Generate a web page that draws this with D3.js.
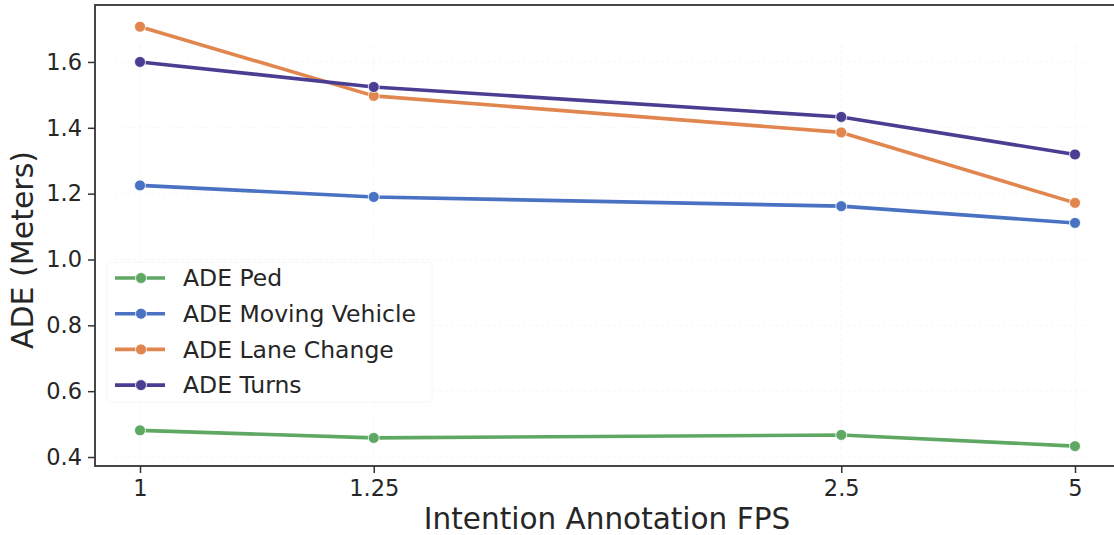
<!DOCTYPE html>
<html lang="en">
<head>
  <meta charset="UTF-8">
  <title>ADE vs Intention Annotation FPS</title>
  <script src="https://d3js.org/d3.v7.min.js"></script>
  <style>
    body { margin: 0; background: #fff; }
    text { font-family: "DejaVu Sans", sans-serif; fill: #262626; }
  </style>
</head>
<body>
  <svg id="chart" width="1114" height="535"></svg>

  <script>
    // data
    const fpsLabels = ["1", "1.25", "2.5", "5"];
    const fpsSlots = [0, 1, 3, 4];   // the ticks are not evenly placed in the original
    const seriesNames = ["ADE Ped", "ADE Moving Vehicle", "ADE Lane Change", "ADE Turns"];
    const adePed = [0.481, 0.458, 0.467, 0.433];
    const adeMovingVehicle = [1.225, 1.190, 1.162, 1.111];
    const adeLaneChange = [1.707, 1.497, 1.386, 1.172];
    const adeTurns = [1.600, 1.524, 1.433, 1.319];
    const yTicks = [0.4, 0.6, 0.8, 1.0, 1.2, 1.4, 1.6];

    const colors = ["#5fa864", "#4a72c3", "#e0864e", "#4a3e93"];
    const seriesValues = [adePed, adeMovingVehicle, adeLaneChange, adeTurns];

    const svg = d3.select("#chart");
    const plot = { left: 95, top: 5, right: 1118, bottom: 466 };

    const x = d3.scaleLinear().domain([0, 4]).range([140, 1075]);
    const y = d3.scaleLinear().domain([0.3727, 1.773]).range([plot.bottom, plot.top]);

    // faint grid
    const grid = svg.append("g");
    grid.selectAll(".vg").data(fpsSlots).enter().append("line")
      .attr("x1", d => x(d)).attr("x2", d => x(d))
      .attr("y1", plot.top + 40).attr("y2", plot.bottom - 5)
      .attr("stroke", "#f4f5fa").attr("stroke-width", 1).attr("stroke-dasharray", "3,3");
    grid.selectAll(".hg").data(yTicks).enter().append("line")
      .attr("x1", plot.left + 20).attr("x2", 1090)
      .attr("y1", d => y(d)).attr("y2", d => y(d))
      .attr("stroke", "#f6f6f9").attr("stroke-width", 1).attr("stroke-dasharray", "3,3");

    // series lines + markers
    const line = d3.line().x((d, i) => x(fpsSlots[i])).y(d => y(d));
    seriesValues.forEach((vals, s) => {
      svg.append("path")
        .datum(vals)
        .attr("d", line)
        .attr("fill", "none")
        .attr("stroke", colors[s])
        .attr("stroke-width", 3.6)
        .attr("stroke-linejoin", "round");
      svg.selectAll(".pt" + s).data(vals).enter().append("circle")
        .attr("cx", (d, i) => x(fpsSlots[i]))
        .attr("cy", d => y(d))
        .attr("r", 5.5)
        .attr("fill", colors[s])
        .attr("stroke", "#fff")
        .attr("stroke-width", 0.8);
    });

    // frame
    svg.append("rect")
      .attr("x", plot.left).attr("y", plot.top)
      .attr("width", plot.right - plot.left).attr("height", plot.bottom - plot.top)
      .attr("fill", "none").attr("stroke", "#333").attr("stroke-width", 1.8);

    // axes
    const xAxis = svg.append("g")
      .attr("transform", `translate(0,${plot.bottom})`)
      .call(d3.axisBottom(x).tickValues(fpsSlots).tickFormat((d, i) => fpsLabels[i]).tickSize(7).tickPadding(7));
    const yAxis = svg.append("g")
      .attr("transform", `translate(${plot.left},0)`)
      .call(d3.axisLeft(y).tickValues(yTicks).tickFormat(d3.format(".1f")).tickSize(7).tickPadding(6));
    [xAxis, yAxis].forEach(a => {
      a.select(".domain").remove();
      a.selectAll(".tick line").attr("stroke", "#333").attr("stroke-width", 1.5);
      a.selectAll(".tick text").attr("font-size", 22.5).attr("fill", "#262626")
        .style("font-family", "DejaVu Sans, sans-serif");
    });

    svg.append("text")
      .attr("x", 607).attr("y", 529)
      .attr("text-anchor", "middle")
      .attr("font-size", 29.5)
      .text("Intention Annotation FPS");

    svg.append("text")
      .attr("transform", "translate(33,250) rotate(-90)")
      .attr("text-anchor", "middle")
      .attr("font-size", 30)
      .text("ADE (Meters)");

    // legend
    const legend = svg.append("g").attr("transform", "translate(107,262)");
    legend.append("rect")
      .attr("x", 0).attr("y", 0).attr("width", 325).attr("height", 140)
      .attr("fill", "#fff").attr("fill-opacity", 0.8)
      .attr("stroke", "#f6f6f6").attr("rx", 3);
    seriesNames.forEach((name, i) => {
      const row = legend.append("g").attr("transform", `translate(0,${16 + i * 35.7})`);
      row.append("line").attr("x1", 8).attr("x2", 58).attr("y1", 0).attr("y2", 0)
        .attr("stroke", colors[i]).attr("stroke-width", 3.6);
      row.append("circle").attr("cx", 34).attr("cy", 0).attr("r", 5.5)
        .attr("fill", colors[i]).attr("stroke", "#fff").attr("stroke-width", 0.8);
      row.append("text").attr("x", 76).attr("y", 0).attr("dy", "0.35em")
        .attr("font-size", 23.5).text(name);
    });
  </script>
</body>
</html>
